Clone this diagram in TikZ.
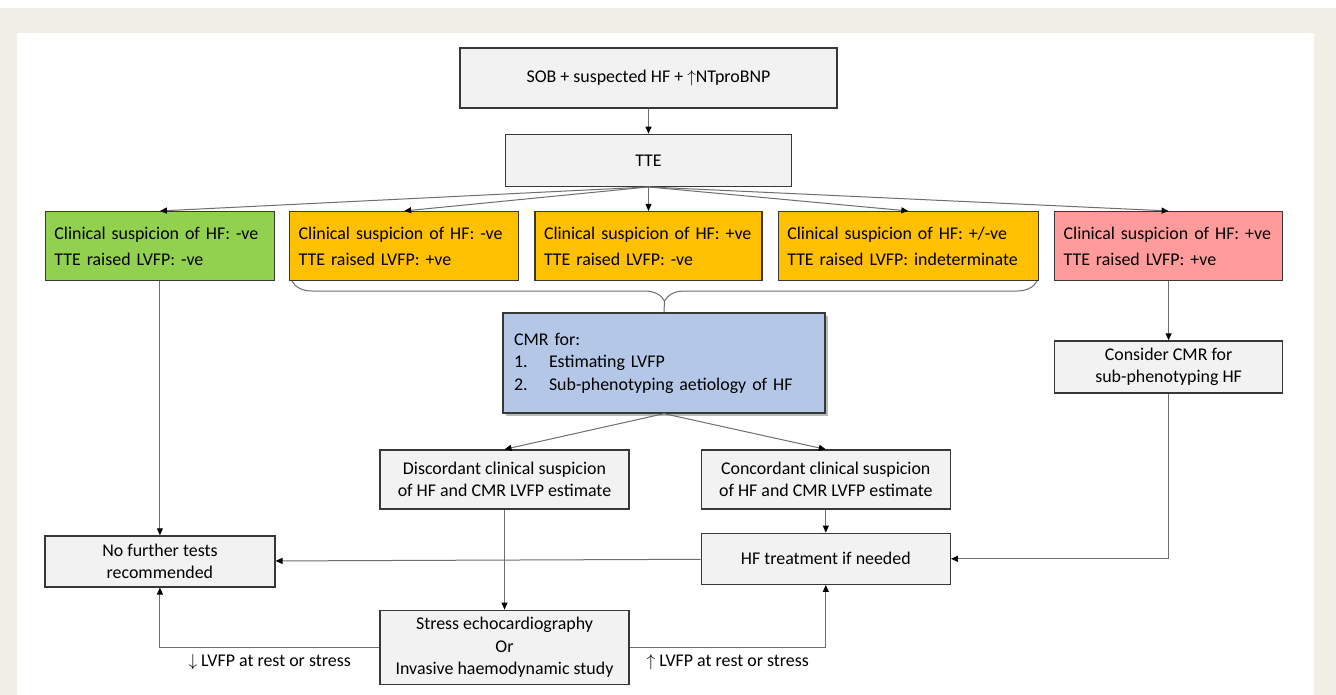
\documentclass[tikz,border=0pt]{standalone}
\usepackage{fontspec}
\setmainfont{Carlito}
\usetikzlibrary{positioning,arrows.meta,shadows,decorations.pathreplacing}
\definecolor{frame}{HTML}{EFEFE5}
\definecolor{boxfill}{HTML}{F2F2F2}
\definecolor{boxline}{HTML}{383838}
\definecolor{linkline}{HTML}{6E6E6E}
\definecolor{neg}{HTML}{92D050}
\definecolor{mixed}{HTML}{FFC000}
\definecolor{pos}{HTML}{FF9B9B}
\definecolor{cmrblue}{HTML}{B4C7E7}
\newcommand{\txt}{\fontsize{17.9}{22.5}\selectfont}

\begin{document}
\begin{tikzpicture}[
    x=1pt, y=-1pt,
    font=\txt,
    >={Triangle[length=7pt,width=6pt,color=black]},
    link/.style={draw=linkline, line width=1pt},
    main node/.style={draw=boxline, line width=1.3pt, fill=boxfill, inner sep=0pt, align=center},
    case node/.style={main node, align=left, inner xsep=9pt, minimum height=69pt, font=\fontsize{17.9}{26}\selectfont}
    ]

    % frame round the figure
    \fill[white] (0,0) rectangle (1336,695);
    \fill[frame] (0,8) rectangle (1336,695);
    \fill[white] (17,33) rectangle (1314,695);

    \node[main node, minimum width=377pt, minimum height=60pt] (sob) at (648.5,78) {SOB + suspected HF + $\uparrow$NTproBNP};
    \node[main node, minimum width=286pt, minimum height=52pt] (tte) [below=25pt of sob] {TTE};

    \node[case node, fill=mixed, text width=209pt] (c3) [below=24pt of tte] {Clinical suspicion of HF: +ve\\TTE raised LVFP: -ve};
    \node[case node, fill=mixed, text width=211pt] (c2) [left=15pt of c3] {Clinical suspicion of HF: -ve\\TTE raised LVFP: +ve};
    \node[case node, fill=neg, text width=211pt] (c1) [left=14pt of c2] {Clinical suspicion of HF: -ve\\TTE raised LVFP: -ve};
    \node[case node, fill=mixed, text width=242pt] (c4) [right=15pt of c3] {Clinical suspicion of HF: +/-ve\\TTE raised LVFP: indeterminate};
    \node[case node, fill=pos, text width=210pt] (c5) [right=15pt of c4] {Clinical suspicion of HF: +ve\\TTE raised LVFP: +ve};

    \node[main node, fill=cmrblue, align=left, text width=300pt, inner xsep=11pt, minimum height=100pt,
      drop shadow={shadow xshift=3pt, shadow yshift=-3pt, fill=black!60, opacity=.45}] (cmr) at (664,363)
      {CMR for:\\\makebox[35pt][l]{1.}Estimating LVFP\\\makebox[35pt][l]{2.}Sub-phenotyping aetiology of HF};
    \node[main node, minimum width=228pt, minimum height=52pt] (consider) [below=59pt of c5] {Consider CMR for\\sub-phenotyping HF};

    \node[main node, minimum width=249pt, minimum height=59pt] (disc) at (504.5,479.5) {Discordant clinical suspicion\\of HF and CMR LVFP estimate};
    \node[main node, minimum width=249pt, minimum height=59pt] (conc) [right=71pt of disc] {Concordant clinical suspicion\\of HF and CMR LVFP estimate};
    \node[main node, minimum width=249pt, minimum height=51pt] (treat) [below=23pt of conc] {HF treatment if needed};
    \node[main node, minimum width=249pt, minimum height=74pt] (stress) [below=100pt of disc] {Stress echocardiography\\Or\\Invasive haemodynamic study};
    \node[main node, minimum width=230pt, minimum height=51pt] (none) [below=254pt of c1] {No further tests\\recommended};

    \path[->, every edge/.append style={link}]
      (sob) edge (tte)
      (tte.south) edge (c1.north)
      (tte.south) edge (c2.north)
      (tte.south) edge (c3.north)
      (tte.south) edge (c4.north)
      (tte.south) edge (c5.north)
      (c5) edge (consider)
      (c1) edge (none)
      (cmr.south) edge (disc.north)
      (cmr.south) edge (conc.north)
      (disc) edge (stress)
      (conc) edge (treat)
      (treat) edge (none);

    % brace under the amber cases
    \draw[link, decorate, decoration={brace, amplitude=20pt, aspect=0.5}] (1037,281) -- (292,281);
    \coordinate (brace) at (664.5,301);
    \draw[link] (brace) -- (cmr.north);

    \draw[link, ->] (consider.south) |- (treat.east);
    \draw[link, ->] (stress.west) -| node[pos=.25, below=7pt, inner sep=0pt] {$\downarrow$ LVFP at rest or stress} (none.south);
    \draw[link, ->] (stress.east) -| node[pos=.25, below=7pt, inner sep=0pt] {$\uparrow$ LVFP at rest or stress} (treat.south);
\end{tikzpicture}
\end{document}
